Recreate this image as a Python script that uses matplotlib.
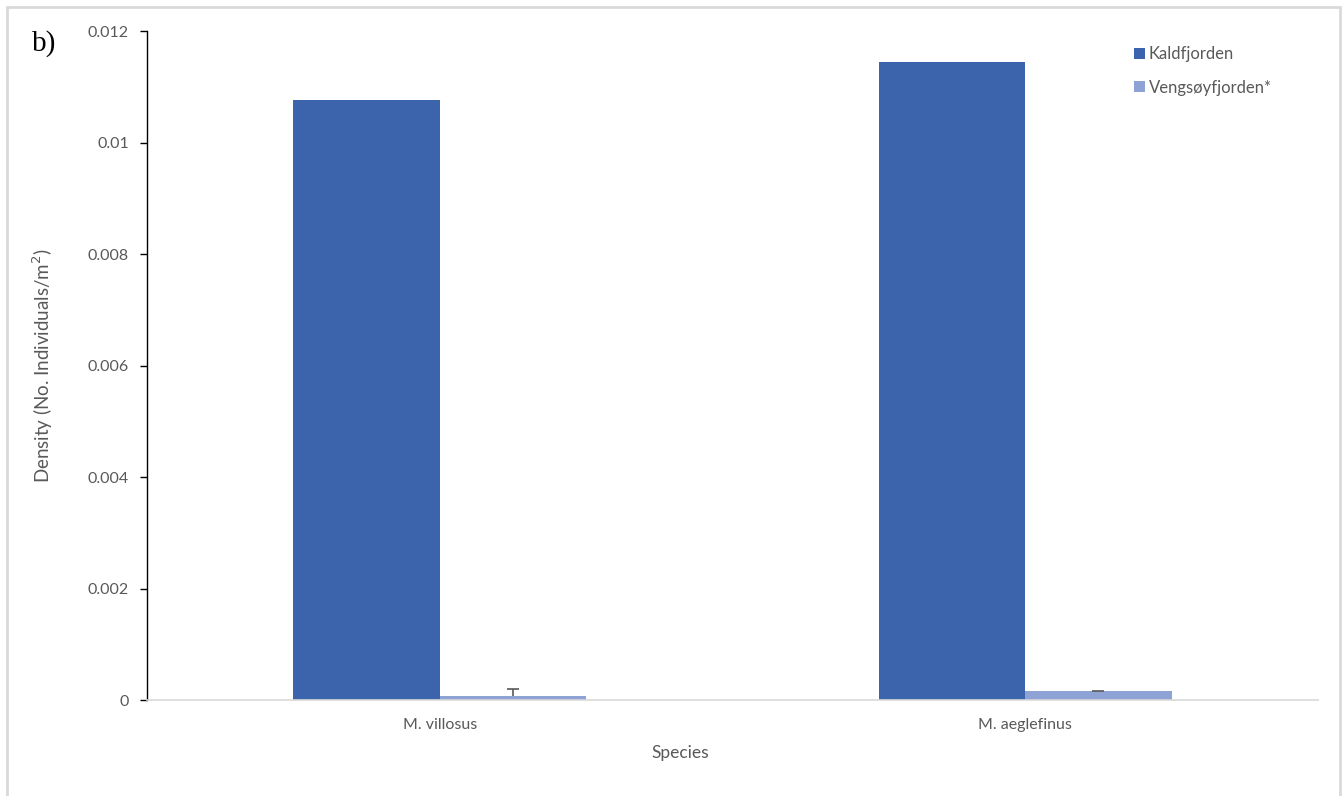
import matplotlib
matplotlib.use("Agg")
import matplotlib.pyplot as plt
import numpy as np
from matplotlib.patches import Rectangle

species = ["M. villosus", "M. aeglefinus"]
kaldfjorden = [0.01076, 0.011445]
vengsoyfjorden = [0.00008, 0.00016]
vengsoy_err = [0.00011, 0.00001]
yticks = [0, 0.002, 0.004, 0.006, 0.008, 0.01, 0.012]
ytick_labels = ["0", "0.002", "0.004", "0.006", "0.008", "0.01", "0.012"]

W, H = 1344, 796
fig = plt.figure(figsize=(W / 100, H / 100), dpi=100)
plt.rcParams['font.family'] = ['Lato', 'DejaVu Sans']

left, right, bottom, top = 147, 1318, 700, 31
ax = fig.add_axes([left / W, 1 - bottom / H, (right - left) / W, (bottom - top) / H])
aw, ah = right - left, bottom - top

x = np.arange(len(species))
bw = 0.25
c1, c2 = "#3C64AD", "#8FA2D5"
ax.bar(x - bw / 2, kaldfjorden, width=bw, color=c1, label="Kaldfjorden", zorder=2)
ax.bar(x + bw / 2, vengsoyfjorden, width=bw, color=c2, label="Vengsøyfjorden*", zorder=2)

# upper-only error bars
err = ax.errorbar(x + bw / 2, vengsoyfjorden, yerr=[np.zeros(len(vengsoy_err)), vengsoy_err],
                  fmt="none", ecolor="#595959", elinewidth=1.2, capsize=4.5, capthick=1.2,
                  zorder=3)
err[1][0].set_visible(False)

ax.set_xlim(-0.5, 1.5)
ax.set_ylim(0, 0.012)
ax.set_yticks(yticks)
ax.set_yticklabels(ytick_labels)
ax.set_xticks(x)
ax.set_xticklabels(species)

for s in ["top", "right"]:
    ax.spines[s].set_visible(False)
ax.spines["left"].set_color("black")
ax.spines["left"].set_linewidth(1)
ax.spines["bottom"].set_color("#d9d9d9")
ax.spines["bottom"].set_linewidth(1.2)
ax.tick_params(axis="y", direction="out", length=5, width=1, color="black",
               labelcolor="#595959", labelsize=11.5, pad=8)
ax.tick_params(axis="x", length=0, labelcolor="#595959", labelsize=11.5, pad=13)

ax.set_ylabel("Density (No. Individuals/m$^2$)", color="#595959", fontsize=13.5)
ax.set_xlabel("Species", color="#595959", fontsize=12.5, va="top")
ax.yaxis.set_label_coords((55 - left) / aw, 0.5)
ax.xaxis.set_label_coords((680.5 - left) / aw, (bottom - 745) / ah)

ax.legend(loc="upper left", bbox_to_anchor=((1134 - left) / aw, (bottom - 46) / ah),
          frameon=False, fontsize=12, labelcolor="#595959", handlelength=0.65,
          handleheight=0.65, handletextpad=0.25, labelspacing=1.05,
          borderaxespad=0, borderpad=0)

fig.text(32 / W, 1 - 44 / H, "b)", family="Liberation Serif", fontsize=21,
         va="center", ha="left", color="black")

fig.patches.append(Rectangle((7 / W, -0.01), (1340 - 7) / W, 1 - 7 / H + 0.01,
                             transform=fig.transFigure, fill=False,
                             edgecolor="#d9d9d9", linewidth=2))

fig.savefig("out.png", dpi=100, facecolor="white")
